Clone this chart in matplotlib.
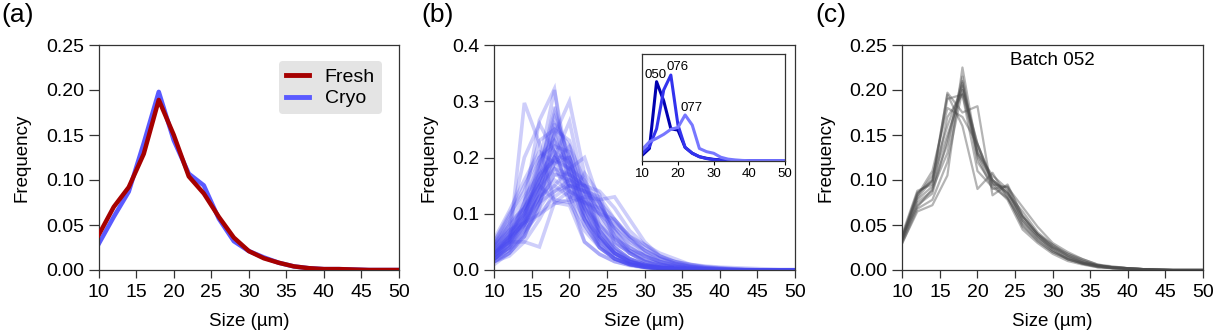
import matplotlib
matplotlib.use("Agg")
import matplotlib.pyplot as plt

plt.rcParams['font.family'] = ['Liberation Sans', 'DejaVu Sans']

sizes = [10, 12, 14, 16, 18, 20, 22, 24, 26, 28, 30, 32, 34, 36, 38, 40, 42, 44, 46, 48, 50]

# Panel (a)
fresh = [0.039, 0.070, 0.092, 0.129, 0.189, 0.150, 0.104, 0.085, 0.059, 0.036, 0.021, 0.013, 0.008,
         0.004, 0.002, 0.001, 0.001, 0.0005, 0.0, 0.0, 0.0]
cryo = [0.029, 0.059, 0.087, 0.141, 0.198, 0.144, 0.107, 0.094, 0.057, 0.032, 0.021, 0.014, 0.008,
        0.004, 0.002, 0.001, 0.001, 0.0005, 0.0, 0.0, 0.0]

# Panel (b) - individual batches
b050 = [0.021, 0.046, 0.297, 0.225, 0.120, 0.115, 0.050, 0.028, 0.015, 0.009, 0.005, 0.003, 0.001, 0, 0, 0, 0, 0, 0, 0, 0]
b076 = [0.028, 0.053, 0.120, 0.266, 0.322, 0.134, 0.050, 0.028, 0.015, 0.008, 0.004, 0.002, 0.001, 0, 0, 0, 0, 0, 0, 0, 0]
b077 = [0.043, 0.071, 0.084, 0.099, 0.118, 0.125, 0.172, 0.134, 0.046, 0.034, 0.028, 0.013, 0.006, 0.003, 0.001, 0, 0, 0, 0, 0, 0]
b04 = [0.030, 0.055, 0.085, 0.140, 0.240, 0.300, 0.170, 0.060, 0.030, 0.015, 0.008, 0.004, 0.002, 0.001, 0, 0, 0, 0, 0, 0, 0]
b05 = [0.025, 0.050, 0.100, 0.160, 0.200, 0.264, 0.140, 0.060, 0.030, 0.012, 0.006, 0.003, 0.002, 0.001, 0, 0, 0, 0, 0, 0, 0]
b06 = [0.035, 0.065, 0.105, 0.170, 0.195, 0.180, 0.200, 0.120, 0.060, 0.030, 0.015, 0.008, 0.004, 0.002, 0.001, 0, 0, 0, 0, 0, 0]
b07 = [0.030, 0.050, 0.050, 0.041, 0.120, 0.140, 0.125, 0.100, 0.090, 0.060, 0.045, 0.030, 0.020, 0.010, 0.005, 0.003, 0.001, 0, 0, 0, 0]
b08 = [0.045, 0.085, 0.110, 0.150, 0.125, 0.120, 0.130, 0.125, 0.130, 0.090, 0.050, 0.025, 0.012, 0.006, 0.003, 0.001, 0, 0, 0, 0, 0]
b09 = [0.040, 0.080, 0.200, 0.260, 0.210, 0.150, 0.090, 0.050, 0.025, 0.012, 0.006, 0.003, 0.001, 0, 0, 0, 0, 0, 0, 0, 0]
b10 = [0.020, 0.040, 0.090, 0.180, 0.280, 0.200, 0.100, 0.045, 0.020, 0.010, 0.005, 0.003, 0.001, 0, 0, 0, 0, 0, 0, 0, 0]
b11 = [0.015, 0.035, 0.070, 0.150, 0.260, 0.220, 0.120, 0.060, 0.030, 0.015, 0.008, 0.004, 0.002, 0.001, 0, 0, 0, 0, 0, 0, 0]
b12 = [0.050, 0.100, 0.140, 0.230, 0.250, 0.180, 0.090, 0.040, 0.020, 0.010, 0.005, 0.002, 0.001, 0, 0, 0, 0, 0, 0, 0, 0]
b13 = [0.030, 0.060, 0.120, 0.200, 0.230, 0.170, 0.110, 0.070, 0.040, 0.020, 0.010, 0.005, 0.003, 0.001, 0, 0, 0, 0, 0, 0, 0]
b14 = [0.020, 0.045, 0.080, 0.130, 0.210, 0.190, 0.140, 0.090, 0.050, 0.030, 0.015, 0.008, 0.004, 0.002, 0.001, 0, 0, 0, 0, 0, 0]
b15 = [0.010, 0.030, 0.060, 0.120, 0.190, 0.200, 0.150, 0.100, 0.060, 0.035, 0.020, 0.010, 0.006, 0.003, 0.001, 0, 0, 0, 0, 0, 0]
b16 = [0.035, 0.070, 0.110, 0.180, 0.270, 0.200, 0.110, 0.055, 0.025, 0.012, 0.006, 0.003, 0.001, 0, 0, 0, 0, 0, 0, 0, 0]
b17 = [0.025, 0.060, 0.100, 0.160, 0.220, 0.210, 0.130, 0.070, 0.035, 0.020, 0.010, 0.005, 0.002, 0.001, 0, 0, 0, 0, 0, 0, 0]
b18 = [0.040, 0.075, 0.120, 0.190, 0.240, 0.160, 0.100, 0.050, 0.030, 0.015, 0.008, 0.004, 0.002, 0.001, 0, 0, 0, 0, 0, 0, 0]
b19 = [0.020, 0.040, 0.075, 0.120, 0.170, 0.160, 0.140, 0.110, 0.080, 0.055, 0.035, 0.020, 0.012, 0.007, 0.004, 0.002, 0.001, 0, 0, 0, 0]
b20 = [0.015, 0.030, 0.065, 0.110, 0.150, 0.180, 0.160, 0.120, 0.070, 0.040, 0.025, 0.015, 0.008, 0.004, 0.002, 0.001, 0, 0, 0, 0, 0]
b21 = [0.030, 0.065, 0.100, 0.150, 0.200, 0.150, 0.140, 0.120, 0.070, 0.035, 0.018, 0.010, 0.005, 0.002, 0.001, 0, 0, 0, 0, 0, 0]
b22 = [0.045, 0.090, 0.130, 0.170, 0.210, 0.140, 0.090, 0.060, 0.030, 0.015, 0.008, 0.004, 0.002, 0.001, 0, 0, 0, 0, 0, 0, 0]
b23 = [0.025, 0.050, 0.090, 0.170, 0.290, 0.190, 0.090, 0.045, 0.020, 0.010, 0.005, 0.002, 0.001, 0, 0, 0, 0, 0, 0, 0, 0]
b24 = [0.020, 0.040, 0.080, 0.140, 0.180, 0.170, 0.150, 0.100, 0.060, 0.030, 0.018, 0.010, 0.006, 0.003, 0.002, 0.001, 0, 0, 0, 0, 0]
b25 = [0.035, 0.060, 0.090, 0.130, 0.160, 0.140, 0.120, 0.110, 0.085, 0.060, 0.035, 0.020, 0.012, 0.006, 0.003, 0.002, 0.001, 0, 0, 0, 0]
b26 = [0.050, 0.095, 0.150, 0.200, 0.220, 0.130, 0.080, 0.040, 0.020, 0.010, 0.005, 0.002, 0.001, 0, 0, 0, 0, 0, 0, 0, 0]
b27 = [0.020, 0.035, 0.060, 0.110, 0.250, 0.230, 0.140, 0.070, 0.035, 0.018, 0.008, 0.004, 0.002, 0.001, 0, 0, 0, 0, 0, 0, 0]
b28 = [0.030, 0.060, 0.095, 0.140, 0.200, 0.180, 0.120, 0.080, 0.050, 0.030, 0.015, 0.008, 0.004, 0.002, 0.001, 0, 0, 0, 0, 0, 0]
b29 = [0.015, 0.030, 0.060, 0.120, 0.170, 0.170, 0.150, 0.110, 0.075, 0.045, 0.025, 0.015, 0.008, 0.004, 0.002, 0.001, 0, 0, 0, 0, 0]
b30 = [0.040, 0.070, 0.100, 0.150, 0.180, 0.150, 0.110, 0.080, 0.055, 0.040, 0.025, 0.015, 0.010, 0.006, 0.004, 0.002, 0.001, 0, 0, 0, 0]
b31 = [0.025, 0.055, 0.085, 0.145, 0.230, 0.190, 0.120, 0.070, 0.040, 0.020, 0.010, 0.005, 0.002, 0.001, 0, 0, 0, 0, 0, 0, 0]
b32 = [0.035, 0.060, 0.080, 0.120, 0.140, 0.150, 0.140, 0.130, 0.090, 0.055, 0.030, 0.015, 0.008, 0.004, 0.002, 0.001, 0, 0, 0, 0, 0]
b33 = [0.020, 0.040, 0.070, 0.100, 0.130, 0.150, 0.150, 0.120, 0.090, 0.060, 0.040, 0.025, 0.015, 0.010, 0.006, 0.004, 0.002, 0.001, 0, 0, 0]
b34 = [0.055, 0.105, 0.160, 0.210, 0.190, 0.120, 0.070, 0.040, 0.020, 0.010, 0.006, 0.003, 0.001, 0, 0, 0, 0, 0, 0, 0, 0]
b35 = [0.030, 0.055, 0.110, 0.160, 0.260, 0.170, 0.100, 0.055, 0.030, 0.015, 0.008, 0.004, 0.002, 0.001, 0, 0, 0, 0, 0, 0, 0]
b36 = [0.025, 0.050, 0.080, 0.130, 0.190, 0.220, 0.160, 0.080, 0.040, 0.020, 0.010, 0.005, 0.002, 0.001, 0, 0, 0, 0, 0, 0, 0]
b37 = [0.015, 0.025, 0.050, 0.090, 0.140, 0.160, 0.150, 0.140, 0.110, 0.070, 0.045, 0.025, 0.015, 0.008, 0.005, 0.003, 0.002, 0.001, 0, 0, 0]
b38 = [0.045, 0.080, 0.110, 0.160, 0.200, 0.200, 0.110, 0.060, 0.030, 0.015, 0.008, 0.004, 0.002, 0.001, 0, 0, 0, 0, 0, 0, 0]
b39 = [0.020, 0.045, 0.095, 0.190, 0.320, 0.170, 0.080, 0.040, 0.020, 0.010, 0.005, 0.002, 0.001, 0, 0, 0, 0, 0, 0, 0, 0]
b40 = [0.030, 0.050, 0.085, 0.130, 0.150, 0.130, 0.120, 0.100, 0.075, 0.050, 0.035, 0.022, 0.015, 0.010, 0.007, 0.005, 0.004, 0.003, 0.002, 0.001, 0.001]

batches_b = [b050, b076, b077, b04, b05, b06, b07, b08, b09, b10, b11, b12, b13, b14, b15, b16, b17,
             b18, b19, b20, b21, b22, b23, b24, b25, b26, b27, b28, b29, b30, b31, b32, b33, b34, b35,
             b36, b37, b38, b39, b40]

inset_labels = ["050", "076", "077"]
inset_series = [b050, b076, b077]

# Panel (c) - replicates of batch 052
c01 = [0.035, 0.085, 0.100, 0.150, 0.200, 0.140, 0.100, 0.085, 0.060, 0.040, 0.028, 0.018, 0.010, 0.005, 0.003, 0.002, 0.001, 0.001, 0, 0, 0]
c02 = [0.030, 0.065, 0.072, 0.105, 0.225, 0.130, 0.105, 0.090, 0.055, 0.035, 0.022, 0.012, 0.007, 0.004, 0.002, 0.001, 0.001, 0, 0, 0, 0]
c03 = [0.040, 0.088, 0.095, 0.197, 0.175, 0.182, 0.083, 0.095, 0.060, 0.040, 0.025, 0.015, 0.008, 0.005, 0.003, 0.002, 0.001, 0, 0, 0, 0]
c04 = [0.035, 0.080, 0.100, 0.195, 0.160, 0.090, 0.108, 0.080, 0.050, 0.032, 0.020, 0.012, 0.007, 0.004, 0.002, 0.001, 0, 0, 0, 0, 0]
c05 = [0.038, 0.070, 0.090, 0.130, 0.210, 0.120, 0.095, 0.092, 0.070, 0.048, 0.030, 0.020, 0.012, 0.006, 0.003, 0.002, 0.001, 0.001, 0, 0, 0]
c06 = [0.033, 0.075, 0.088, 0.170, 0.195, 0.130, 0.100, 0.085, 0.065, 0.042, 0.028, 0.016, 0.009, 0.005, 0.003, 0.002, 0.001, 0, 0, 0, 0]
c07 = [0.036, 0.082, 0.105, 0.160, 0.205, 0.140, 0.095, 0.078, 0.045, 0.030, 0.018, 0.010, 0.006, 0.003, 0.002, 0.001, 0, 0, 0, 0, 0]
c08 = [0.030, 0.068, 0.078, 0.120, 0.200, 0.135, 0.100, 0.088, 0.052, 0.036, 0.024, 0.014, 0.008, 0.004, 0.002, 0.001, 0.001, 0, 0, 0, 0]
c09 = [0.038, 0.086, 0.098, 0.190, 0.195, 0.110, 0.092, 0.080, 0.055, 0.038, 0.025, 0.016, 0.010, 0.005, 0.003, 0.002, 0.001, 0, 0, 0, 0]
c10 = [0.034, 0.078, 0.093, 0.140, 0.215, 0.125, 0.090, 0.093, 0.060, 0.040, 0.026, 0.018, 0.012, 0.006, 0.004, 0.002, 0.001, 0.001, 0, 0, 0]
c11 = [0.037, 0.083, 0.110, 0.180, 0.170, 0.140, 0.098, 0.086, 0.058, 0.038, 0.022, 0.012, 0.007, 0.003, 0.002, 0.001, 0, 0, 0, 0, 0]
c12 = [0.032, 0.072, 0.085, 0.145, 0.208, 0.128, 0.097, 0.082, 0.048, 0.033, 0.020, 0.013, 0.008, 0.005, 0.003, 0.002, 0.001, 0, 0, 0, 0]
replicates_c = [c01, c02, c03, c04, c05, c06, c07, c08, c09, c10, c11, c12]

W, H = 1215, 334
fig = plt.figure(figsize=(W / 100, H / 100), dpi=100)

TICK_FS = 14
LABEL_FS = 13.5


def style(ax, ymax, ystep, fmt):
    ax.set_xlim(10, 50)
    ax.set_ylim(0, ymax)
    ax.set_xticks(range(10, 51, 5))
    n = int(round(ymax / ystep))
    ax.set_yticks([i * ystep for i in range(n + 1)])
    ax.set_yticklabels([fmt.format(i * ystep) for i in range(n + 1)])
    for s in ax.spines.values():
        s.set_linewidth(0.9)
        s.set_color('#333333')
    ax.tick_params(axis='both', direction='out', labelsize=TICK_FS, width=0.9, color='#333333',
                   top=False, right=False)
    ax.tick_params(axis='x', length=6, pad=4)
    ax.tick_params(axis='y', length=7.5, pad=3)
    ax.set_xlabel('Size (µm)', fontsize=LABEL_FS, labelpad=9)
    ax.set_ylabel('Frequency', fontsize=LABEL_FS, labelpad=11)


def px_axes(x0, x1, y0, y1):
    return fig.add_axes([x0 / W, 1 - y1 / H, (x1 - x0) / W, (y1 - y0) / H])


# (a)
axa = px_axes(98.7, 399, 45, 270)
axa.plot(sizes, cryo, color='#5a5aff', lw=3.2, label='Cryo', zorder=2)
axa.plot(sizes, fresh, color='#a60000', lw=3.2, label='Fresh', zorder=3)
style(axa, 0.25, 0.05, '{:.2f}')
h, l = axa.get_legend_handles_labels()
leg = axa.legend(h[::-1], l[::-1], loc='upper right', fontsize=14, frameon=True, fancybox=True,
                 facecolor='#e4e4e4', edgecolor='none', framealpha=1, handlelength=1.2,
                 borderpad=0.35, labelspacing=0.2, handletextpad=0.8, bbox_to_anchor=(0.975, 0.97))
for lh in leg.get_lines():
    lh.set_linewidth(3.5)

# (b)
axb = px_axes(494.3, 795, 45, 270)
for s in batches_b:
    axb.plot(sizes, s, color='#4a4af0', lw=2.6, alpha=0.27, solid_joinstyle='miter')
style(axb, 0.4, 0.1, '{:.1f}')

axi = px_axes(642.3, 785, 54.3, 160.7)
inset_colors = ['#0000b0', '#3333ee', '#7777ff']
for s, c in zip(inset_series, inset_colors):
    axi.plot(sizes, s, color=c, lw=2.2)
axi.set_xlim(10, 50)
axi.set_ylim(0, 0.4)
axi.set_xticks(range(10, 51, 10))
axi.set_yticks([])
axi.tick_params(axis='x', direction='out', length=3, labelsize=9.5, width=0.8, pad=2)
for sp in axi.spines.values():
    sp.set_linewidth(0.9)
    sp.set_color('#333333')
label_pos = [(13.8, 0.322), (19.8, 0.354), (23.9, 0.197)]
for lab, (xx, yy) in zip(inset_labels, label_pos):
    axi.text(xx, yy, lab, fontsize=9.5, ha='center', va='center')

# (c)
axc = px_axes(902.3, 1203, 45, 270)
for s in replicates_c:
    axc.plot(sizes, s, color='#4d4d4d', lw=1.6, alpha=0.42)
style(axc, 0.25, 0.05, '{:.2f}')
axc.text(0.5, 0.93, 'Batch 052', transform=axc.transAxes, ha='center', va='center', fontsize=13.5)

# panel letters
for xpx, lab in [(1, '(a)'), (421, '(b)'), (815, '(c)')]:
    fig.text(xpx / W, 1 - 15 / H, lab, fontsize=19, ha='left', va='center')

fig.savefig('out.png', dpi=100)
